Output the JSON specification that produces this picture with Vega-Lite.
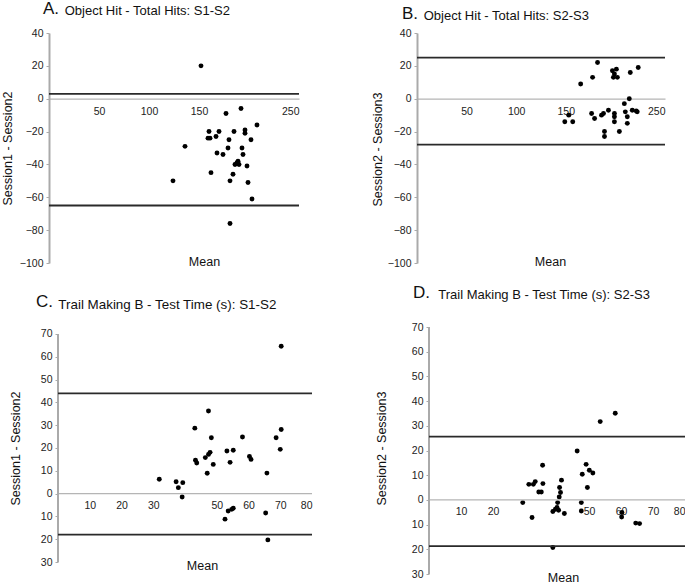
{
  "$schema": "https://vega.github.io/schema/vega-lite/v6.json",
  "padding": {"left": 1, "top": 0, "right": 0, "bottom": 0},
  "bounds": "flush",
  "columns": 2,
  "spacing": {"row": 64, "column": 105},
  "config": {
    "font": "Liberation Sans",
    "view": {"stroke": null},
    "axis": {"grid": false, "labelFontSize": 10.5, "labelColor": "#222", "titleFontSize": 12.5, "titleFontWeight": "normal", "titleColor": "#111", "labelOverlap": false, "tickCount": 20},
    "axisY": {"domainColor": "#aaa", "domainWidth": 2, "tickColor": "#aaa", "tickSize": 3, "tickWidth": 1, "labelPadding": 3},
    "axisX": {"domainColor": "#b5b5b5", "domainWidth": 1.2, "ticks": false, "labelPadding": 8},
    "title": {"fontWeight": "normal", "color": "#111", "subtitleColor": "#111", "subtitleFontSize": 13, "fontSize": 17, "anchor": "start", "frame": "group", "subtitlePadding": -13}
  },
  "datasets": {
    "a": [
      {"mean": 152, "diff": 20}, {"mean": 192, "diff": -6}, {"mean": 177, "diff": -9}, {"mean": 208, "diff": -16},
      {"mean": 160, "diff": -20}, {"mean": 170, "diff": -20}, {"mean": 185, "diff": -20}, {"mean": 196, "diff": -19},
      {"mean": 196, "diff": -21}, {"mean": 161, "diff": -24}, {"mean": 159, "diff": -24}, {"mean": 167, "diff": -23},
      {"mean": 180, "diff": -25}, {"mean": 202, "diff": -25}, {"mean": 136, "diff": -29}, {"mean": 179, "diff": -30},
      {"mean": 193, "diff": -30}, {"mean": 168, "diff": -33}, {"mean": 174, "diff": -34}, {"mean": 194, "diff": -34},
      {"mean": 186, "diff": -40}, {"mean": 189, "diff": -38}, {"mean": 188, "diff": -39}, {"mean": 190, "diff": -40},
      {"mean": 198, "diff": -41}, {"mean": 162, "diff": -45}, {"mean": 184, "diff": -46}, {"mean": 124, "diff": -50},
      {"mean": 181, "diff": -50}, {"mean": 199, "diff": -51}, {"mean": 203, "diff": -61}, {"mean": 181, "diff": -76}
    ],
    "b": [
      {"mean": 182, "diff": 22}, {"mean": 165, "diff": 9}, {"mean": 177, "diff": 13}, {"mean": 197, "diff": 17},
      {"mean": 201, "diff": 18}, {"mean": 199, "diff": 15}, {"mean": 198, "diff": 13}, {"mean": 202, "diff": 13},
      {"mean": 215, "diff": 16}, {"mean": 223, "diff": 19}, {"mean": 214, "diff": 0}, {"mean": 209, "diff": -3},
      {"mean": 149, "diff": -14}, {"mean": 153, "diff": -10}, {"mean": 157, "diff": -14}, {"mean": 176, "diff": -9},
      {"mean": 179, "diff": -12}, {"mean": 186, "diff": -10}, {"mean": 188, "diff": -9}, {"mean": 193, "diff": -7},
      {"mean": 189, "diff": -20}, {"mean": 189, "diff": -23}, {"mean": 199, "diff": -9}, {"mean": 199, "diff": -11},
      {"mean": 199, "diff": -14}, {"mean": 204, "diff": -20}, {"mean": 210, "diff": -8}, {"mean": 212, "diff": -11},
      {"mean": 212, "diff": -15}, {"mean": 217, "diff": -7}, {"mean": 221, "diff": -7.5}, {"mean": 222, "diff": -8}
    ],
    "c": [
      {"mean": 70.3, "diff": 64.6}, {"mean": 31.9, "diff": 6.3}, {"mean": 37.2, "diff": 5.2}, {"mean": 37.9, "diff": 2.6},
      {"mean": 39.3, "diff": 4.8}, {"mean": 39.1, "diff": -1.5}, {"mean": 43.1, "diff": 28.7}, {"mean": 43.3, "diff": 14.6},
      {"mean": 43.7, "diff": 13.4}, {"mean": 47.4, "diff": 36.2}, {"mean": 46.4, "diff": 15.8}, {"mean": 47.4, "diff": 17.2},
      {"mean": 47.9, "diff": 18.1}, {"mean": 47.0, "diff": 8.9}, {"mean": 48.3, "diff": 24.5}, {"mean": 48.9, "diff": 12.8},
      {"mean": 53.2, "diff": 18.7}, {"mean": 55.2, "diff": 19.0}, {"mean": 54.2, "diff": 13.7}, {"mean": 52.6, "diff": -11.2},
      {"mean": 53.6, "diff": -7.6}, {"mean": 54.7, "diff": -6.9}, {"mean": 55.2, "diff": -6.4}, {"mean": 58.1, "diff": 24.8},
      {"mean": 60.3, "diff": 16.3}, {"mean": 60.8, "diff": 15.0}, {"mean": 65.8, "diff": 9.0}, {"mean": 65.4, "diff": -8.5},
      {"mean": 66.1, "diff": -20.3}, {"mean": 68.7, "diff": 24.5}, {"mean": 70.3, "diff": 28.1}, {"mean": 70.0, "diff": 19.4}
    ],
    "d": [
      {"mean": 29.3, "diff": -1.1}, {"mean": 31.2, "diff": 6.3}, {"mean": 32.6, "diff": 6.3}, {"mean": 33.2, "diff": 7.4},
      {"mean": 32.2, "diff": -7.1}, {"mean": 34.3, "diff": 3.2}, {"mean": 35.1, "diff": 3.2}, {"mean": 35.5, "diff": 14.0},
      {"mean": 35.6, "diff": 6.6}, {"mean": 38.7, "diff": -4.7}, {"mean": 38.7, "diff": -19.3}, {"mean": 39.5, "diff": -3.8},
      {"mean": 40.0, "diff": -3.1}, {"mean": 40.5, "diff": -4.2}, {"mean": 40.2, "diff": -1.1}, {"mean": 40.7, "diff": 1.2},
      {"mean": 41.1, "diff": 3.0}, {"mean": 40.8, "diff": 5.0}, {"mean": 41.4, "diff": 8.0}, {"mean": 42.3, "diff": -5.5},
      {"mean": 46.3, "diff": 19.8}, {"mean": 47.9, "diff": 10.4}, {"mean": 47.6, "diff": -1.1}, {"mean": 47.6, "diff": -4.5},
      {"mean": 49.1, "diff": 14.4}, {"mean": 49.5, "diff": 5.0}, {"mean": 50.1, "diff": 12.0}, {"mean": 51.2, "diff": 10.9},
      {"mean": 53.5, "diff": 31.7}, {"mean": 58.2, "diff": 35.1}, {"mean": 60.3, "diff": -5.1}, {"mean": 60.2, "diff": -6.9},
      {"mean": 64.6, "diff": -9.4}, {"mean": 65.8, "diff": -9.6}
    ],
    "la": [{"value": 3}, {"value": -65}],
    "lb": [{"value": 25}, {"value": -28}],
    "lc": [{"value": 44}, {"value": -18}],
    "ld": [{"value": 25.6}, {"value": -18.7}],
    "one": [{"zero": 0}]
  },
  "concat": [
    {
      "width": 250, "height": 230,
      "title": {"text": "A.", "subtitle": "\u200b\u00a0\u00a0\u00a0\u00a0\u00a0\u00a0Object Hit - Total Hits: S1-S2", "dx": -6, "offset": 9},
      "layer": [
        {
          "data": {"name": "a"},
          "mark": {"type": "circle", "size": 24, "color": "black", "opacity": 1},
          "encoding": {
            "x": {"field": "mean", "type": "quantitative", "scale": {"domain": [0, 250], "nice": false},
                  "axis": {"values": [50, 100, 150, 250], "tickCount": 20, "offset": -164.3, "title": "Mean", "titleX": 155, "titleY": 163, "titleBaseline": "middle", "titleAlign": "center"}},
            "y": {"field": "diff", "type": "quantitative", "scale": {"domain": [-100, 40], "nice": false},
                  "axis": {"values": [-100, -80, -60, -40, -20, 0, 20, 40], "tickCount": 20, "labelOverlap": false, "title": "Session1 - Session2", "titleX": -42, "titleY": 115, "titleBaseline": "middle", "titleAlign": "center"}}
          }
        },
        {
          "data": {"name": "la"},
          "mark": {"type": "rule", "color": "#2a2a2a", "strokeWidth": 1.8},
          "encoding": {"y": {"field": "value", "type": "quantitative"}}
        }
      ]
    },
    {
      "width": 248, "height": 230,
      "title": {"text": "B.", "subtitle": "\u200b\u00a0\u00a0\u00a0\u00a0\u00a0\u00a0Object Hit - Total Hits: S2-S3", "dx": -15, "offset": 4},
      "layer": [
        {
          "data": {"name": "b"},
          "mark": {"type": "circle", "size": 24, "color": "black", "opacity": 1},
          "encoding": {
            "x": {"field": "mean", "type": "quantitative", "scale": {"domain": [0, 250], "nice": false},
                  "axis": {"values": [50, 100, 150, 250], "tickCount": 20, "offset": -164.3, "title": "Mean", "titleX": 133, "titleY": 163, "titleBaseline": "middle", "titleAlign": "center"}},
            "y": {"field": "diff", "type": "quantitative", "scale": {"domain": [-100, 40], "nice": false},
                  "axis": {"values": [-100, -80, -60, -40, -20, 0, 20, 40], "tickCount": 20, "labelOverlap": false, "title": "Session2 - Session3", "titleX": -40, "titleY": 116, "titleBaseline": "middle", "titleAlign": "center"}}
          }
        },
        {
          "data": {"name": "lb"},
          "mark": {"type": "rule", "color": "#2a2a2a", "strokeWidth": 1.8},
          "encoding": {"y": {"field": "value", "type": "quantitative"}}
        }
      ]
    },
    {
      "width": 263, "height": 235,
      "title": {"text": "C.", "subtitle": "\u200b\u00a0\u00a0\u00a0\u00a0\u00a0\u00a0Trail Making B - Test Time (s): S1-S2", "dx": -13, "offset": 15, "subtitleFontSize": 13.4},
      "layer": [
        {
          "data": {"name": "c"},
          "mark": {"type": "circle", "size": 24, "color": "black", "opacity": 1},
          "encoding": {
            "x": {"field": "mean", "type": "quantitative", "scale": {"domain": [-2.835, 80], "nice": false},
                  "axis": {"values": [10, 20, 30, 50, 60, 70, 80], "tickCount": 20, "domain": false, "offset": -68.4, "labelPadding": 7, "title": "Mean", "titleX": 153, "titleY": 72, "titleBaseline": "middle", "titleAlign": "center"}},
            "y": {"field": "diff", "type": "quantitative", "scale": {"domain": [-30, 73.07], "nice": false},
                  "axis": {"values": [-30, -20, -10, 0, 10, 20, 30, 40, 50, 60, 70], "tickCount": 20, "labelOverlap": false, "domain": false, "offset": -9, "labelExpr": "'' + abs(datum.value)", "title": "Session1 - Session2", "titleX": -43, "titleY": 121, "titleBaseline": "middle", "titleAlign": "center"}}
          }
        },
        {
          "data": {"name": "one"},
          "mark": {"type": "rule", "color": "#b5b5b5", "strokeWidth": 1.2},
          "encoding": {"y": {"datum": 0, "type": "quantitative"}, "x": {"datum": 0, "type": "quantitative"}, "x2": {"datum": 80}}
        },
        {
          "data": {"name": "one"},
          "mark": {"type": "rule", "color": "#aaa", "strokeWidth": 2},
          "encoding": {"x": {"datum": 0, "type": "quantitative"}, "y": {"datum": -30, "type": "quantitative"}, "y2": {"datum": 70}}
        },
        {
          "data": {"name": "lc"},
          "mark": {"type": "rule", "color": "#2a2a2a", "strokeWidth": 1.8},
          "encoding": {"y": {"field": "value", "type": "quantitative"}, "x": {"datum": 0, "type": "quantitative"}, "x2": {"datum": 80}}
        }
      ]
    },
    {
      "width": 268, "height": 247,
      "title": {"text": "D.", "subtitle": "\u200b\u00a0\u00a0\u00a0\u00a0\u00a0\u00a0\u00a0Trail Making B - Test Time (s): S2-S3", "dx": -4, "offset": 19},
      "layer": [
        {
          "data": {"name": "d"},
          "mark": {"type": "circle", "size": 24, "color": "black", "opacity": 1},
          "encoding": {
            "x": {"field": "mean", "type": "quantitative", "scale": {"domain": [-3.75, 80], "nice": false},
                  "axis": {"values": [10, 20, 50, 60, 70, 80], "tickCount": 20, "domain": false, "offset": -74.1, "labelPadding": 7, "title": "Mean", "titleX": 146, "titleY": 78, "titleBaseline": "middle", "titleAlign": "center"}},
            "y": {"field": "diff", "type": "quantitative", "scale": {"domain": [-30, 70], "nice": false},
                  "axis": {"values": [-30, -20, -10, 0, 10, 20, 30, 40, 50, 60, 70], "tickCount": 20, "labelOverlap": false, "domain": false, "offset": -12, "labelExpr": "'' + abs(datum.value)", "title": "Session2 - Session3", "titleX": -48, "titleY": 121, "titleBaseline": "middle", "titleAlign": "center"}}
          }
        },
        {
          "data": {"name": "one"},
          "mark": {"type": "rule", "color": "#b5b5b5", "strokeWidth": 1.2},
          "encoding": {"y": {"datum": 0, "type": "quantitative"}, "x": {"datum": 0, "type": "quantitative"}, "x2": {"datum": 80}}
        },
        {
          "data": {"name": "one"},
          "mark": {"type": "rule", "color": "#aaa", "strokeWidth": 2},
          "encoding": {"x": {"datum": 0, "type": "quantitative"}, "y": {"datum": -30, "type": "quantitative"}, "y2": {"datum": 70}}
        },
        {
          "data": {"name": "ld"},
          "mark": {"type": "rule", "color": "#2a2a2a", "strokeWidth": 1.8},
          "encoding": {"y": {"field": "value", "type": "quantitative"}, "x": {"datum": 0, "type": "quantitative"}, "x2": {"datum": 80}}
        }
      ]
    }
  ]
}
